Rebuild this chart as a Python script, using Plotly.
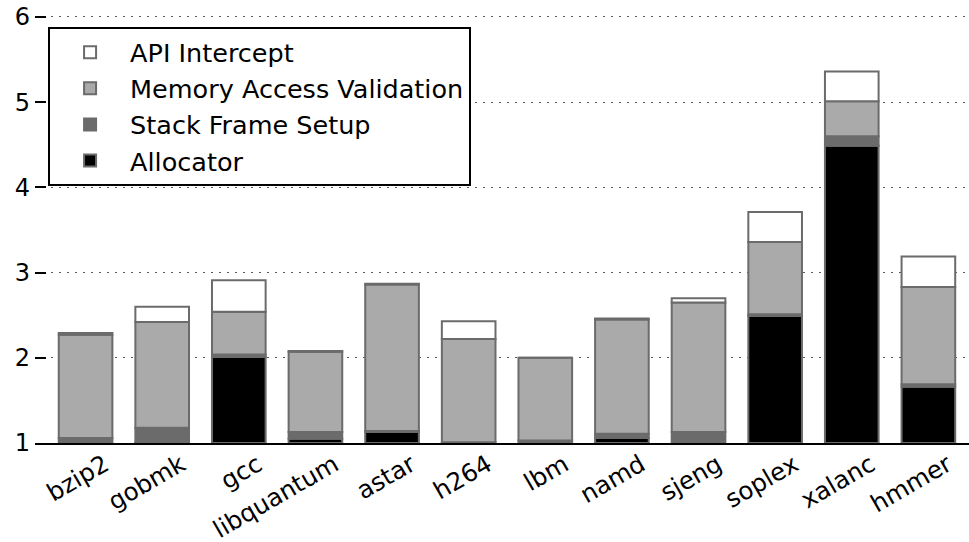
import plotly.graph_objects as go
import numpy as np

categories = ["bzip2", "gobmk", "gcc", "libquantum", "astar", "h264",
              "lbm", "namd", "sjeng", "soplex", "xalanc", "hmmer"]
allocator = [0.00, 0.01, 1.01, 0.05, 0.13, 0.00, 0.00, 0.06, 0.00, 1.49, 3.49, 0.66]
stack_frame = [0.06, 0.17, 0.03, 0.08, 0.01, 0.01, 0.03, 0.05, 0.13, 0.02, 0.11, 0.03]
mem_access = [1.21, 1.24, 0.50, 0.94, 1.72, 1.21, 0.97, 1.34, 1.52, 0.85, 0.41, 1.14]
api_intercept = [0.02, 0.18, 0.37, 0.01, 0.01, 0.21, 0.00, 0.01, 0.05, 0.35, 0.35, 0.36]
baseline = 1.0
y_ticks = [1, 2, 3, 4, 5, 6]

series = [
    ("Allocator", allocator, "#000000"),
    ("Stack Frame Setup", stack_frame, "#6b6b6b"),
    ("Memory Access Validation", mem_access, "#aaaaaa"),
    ("API Intercept", api_intercept, "#ffffff"),
]

x = list(range(len(categories)))
fig = go.Figure()
cum = np.full(len(categories), baseline)
for name, vals, color in series:
    v = np.array(vals)
    fig.add_trace(go.Bar(
        x=x, y=v, base=cum.copy(), name=name, width=0.7,
        marker=dict(color=color, line=dict(color="#6b6b6b", width=2)),
        legendgroup=name,
    ))
    cum = cum + v

fig.update_layout(
    width=969, height=542,
    margin=dict(l=35, r=0, t=14, b=99, autoexpand=False),
    barmode="overlay",
    plot_bgcolor="white", paper_bgcolor="white",
    font=dict(family="DejaVu Sans", size=24, color="black"),
    legend=dict(
        x=0.014, y=0.9695, xanchor="left", yanchor="top",
        bgcolor="white", bordercolor="black", borderwidth=2,
        font=dict(size=25.5), traceorder="reversed", tracegroupgap=8,
        itemwidth=70,
    ),
    showlegend=True,
)
fig.update_xaxes(
    range=[-0.66, 11.53], tickvals=x, ticktext=categories, tickangle=-30,
    tickfont=dict(size=24.5),
    showgrid=False, showline=True, linecolor="black", linewidth=2,
    ticks="", zeroline=False, automargin=False, ticklabelshift=19,
    ticklabelstandoff=-4,
)
fig.update_yaxes(
    range=[1, 6.035], tickvals=y_ticks, showline=False, zeroline=False,
    showgrid=True, gridcolor="#555555", griddash="2px,6px", gridwidth=1,
    ticks="inside", ticklen=11, tickwidth=1.5, tickcolor="black",
    automargin=False, ticklabelstandoff=4,
)
fig.write_html("out.html", config={"displayModeBar": False},
               post_script="document.body.style.margin='0px';")
